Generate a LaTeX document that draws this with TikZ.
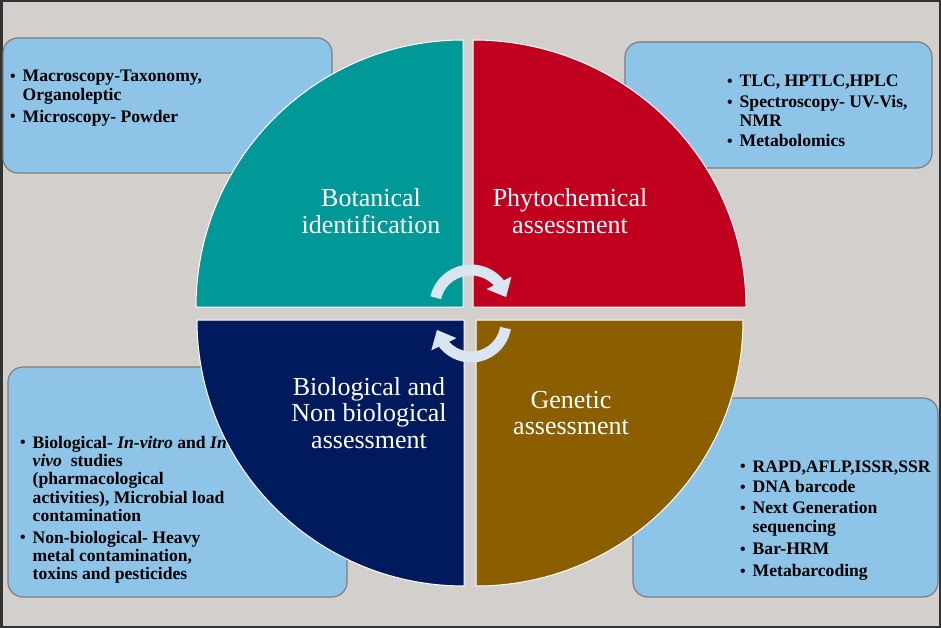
\documentclass[tikz,border=0pt]{standalone}
\usepackage{fontspec}
\setmainfont{Liberation Serif}
\usetikzlibrary{arrows.meta,bending}
\definecolor{bgc}{RGB}{211,207,205}
\definecolor{framec}{RGB}{50,50,50}
\definecolor{boxc}{RGB}{142,196,232}
\definecolor{boxline}{RGB}{125,125,125}
\definecolor{tealq}{RGB}{0,153,152}
\definecolor{redq}{RGB}{192,0,30}
\definecolor{navyq}{RGB}{0,26,94}
\definecolor{brownq}{RGB}{139,94,0}
\definecolor{arrc}{RGB}{218,229,242}
\newcommand{\bul}{\makebox[12.5pt][l]{\raisebox{0.4pt}{\scalebox{0.9}{•}}}}
\tikzset{
  infobox/.style={fill=boxc,draw=boxline,line width=1.2,rounded corners=15},
  listtext/.style={font=\fontsize{17.6}{18.4}\selectfont\bfseries,inner sep=0,text=black,anchor=base west},
  quad/.style={draw=white,line width=1},
  qlabel/.style={font=\fontsize{26}{26.6}\selectfont,text=white,inner sep=0,anchor=base},
  cyclearrow/.style={draw=arrc,line width=11,-{Triangle[width=27pt,length=16pt,flex]}}
}
\begin{document}
\begin{tikzpicture}[x=1pt,y=-1pt]
\useasboundingbox (0,0) rectangle (941,628);
\fill[bgc] (0,0) rectangle (941,628);
\draw[framec,line width=2.5] (1.25,1.25) rectangle (939.75,626.75);

% info boxes
\draw[infobox] (3,38) rectangle (332,173);
\draw[infobox] (625,42) rectangle (932,168);
\draw[infobox] (8,367) rectangle (347,597);
\draw[infobox] (633,398) rectangle (938,597);

\node[listtext] (tTL) at (10,82) {\begin{tabular}[t]{@{}l@{}l@{}}
\bul & Macroscopy-Taxonomy,\\
 & Organoleptic\\[3.5pt]
\bul & Microscopy- Powder
\end{tabular}};

\node[listtext] (tTR) at (727,87) {\begin{tabular}[t]{@{}l@{}l@{}}
\bul & TLC, HPTLC,HPLC\\[2.5pt]
\bul & Spectroscopy- UV-Vis,\\
 & NMR\\[2pt]
\bul & Metabolomics
\end{tabular}};

\node[listtext] (tBL) at (20,448) {\begin{tabular}[t]{@{}l@{}l@{}}
\bul & Biological- \textit{In-vitro} and \textit{In}\\
 & \textit{vivo}\ \ studies\\
 & (pharmacological\\
 & activities), Microbial load\\
 & contamination\\[3pt]
\bul & Non-biological- Heavy\\
 & metal contamination,\\
 & toxins and pesticides
\end{tabular}};

\node[listtext] (tBR) at (740,472) {\begin{tabular}[t]{@{}l@{}l@{}}
\bul & RAPD,AFLP,ISSR,SSR\\[2.5pt]
\bul & DNA barcode\\[2.5pt]
\bul & Next Generation\\
 & sequencing\\[4pt]
\bul & Bar-HRM\\[3.5pt]
\bul & Metabarcoding
\end{tabular}};

% quadrants
\filldraw[quad,fill=tealq] (463,307) -- ++(-267,0) arc[start angle=180,end angle=270,x radius=267,y radius=267] -- cycle;
\filldraw[quad,fill=redq] (473,307) -- ++(0,-267) arc[start angle=270,end angle=360,x radius=273,y radius=267] -- cycle;
\filldraw[quad,fill=navyq] (464,320) -- ++(0,266) arc[start angle=90,end angle=180,x radius=267,y radius=266] -- cycle;
\filldraw[quad,fill=brownq] (476,320) -- ++(267,0) arc[start angle=0,end angle=90,x radius=267,y radius=266] -- cycle;

% labels
\node[qlabel] (lBot) at (371,207) {\begin{tabular}[t]{@{}c@{}}Botanical\\identification\end{tabular}};
\node[qlabel] (lPhy) at (570,207) {\begin{tabular}[t]{@{}c@{}}Phytochemical\\assessment\end{tabular}};
\node[qlabel] (lBio) at (369,395) {\begin{tabular}[t]{@{}c@{}}Biological and\\Non biological\\assessment\end{tabular}};
\node[qlabel] (lGen) at (571,408) {\begin{tabular}[t]{@{}c@{}}Genetic\\assessment\end{tabular}};

% cycle arrows
\coordinate (cTop) at (471,305);
\coordinate (cBot) at (471,322);
\draw[cyclearrow] (cTop) ++(192:36 and 35) arc[start angle=192,end angle=347,x radius=36,y radius=35];
\draw[cyclearrow] (cBot) ++(10:35 and 35) arc[start angle=10,end angle=167,x radius=35,y radius=35];
\end{tikzpicture}
\end{document}
